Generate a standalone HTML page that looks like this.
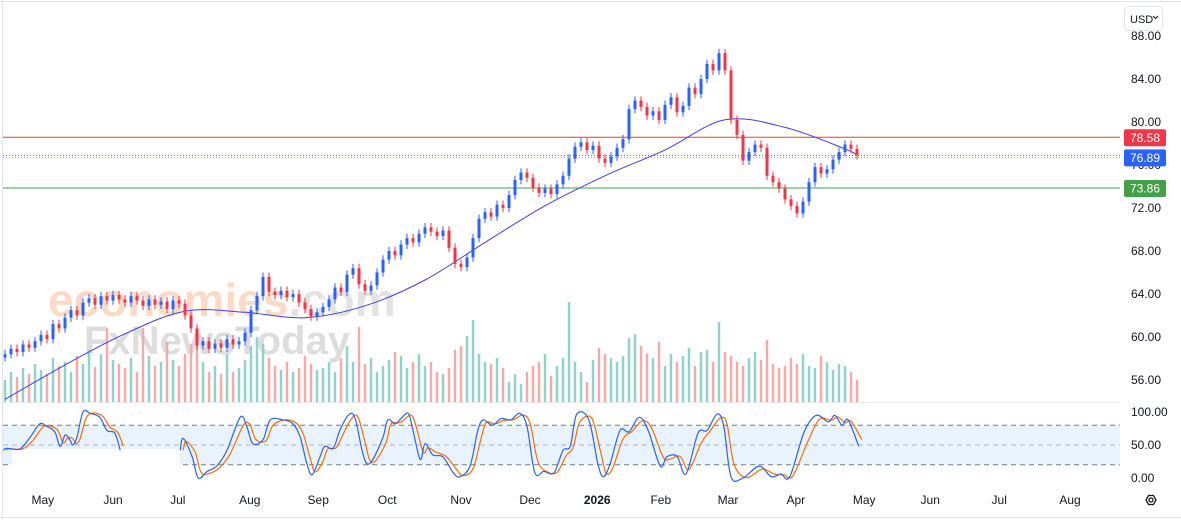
<!DOCTYPE html>
<html><head><meta charset="utf-8">
<style>
html,body{margin:0;padding:0;background:#fff;}
body{width:1181px;height:519px;overflow:hidden;font-family:"Liberation Sans",sans-serif;}
svg text{font-family:"Liberation Sans",sans-serif;}
</style></head>
<body>
<svg id="chart" width="1181" height="519" viewBox="0 0 1181 519" xmlns="http://www.w3.org/2000/svg">
  <rect x="0" y="0" width="1181" height="519" fill="#fff"/>
  <line x1="0" y1="1.5" x2="1181" y2="1.5" stroke="#e0e3eb"/>
  <line x1="2.5" y1="2" x2="2.5" y2="519" stroke="#e0e3eb"/>
  <line x1="0" y1="517.5" x2="1181" y2="517.5" stroke="#e0e3eb"/>
  <line x1="0" y1="402.5" x2="1120" y2="402.5" stroke="#e6e8ee" stroke-width="1"/>
  <g opacity="0.5">
    <text x="48" y="316" font-size="46" fill="#f9b98e" font-weight="bold">economies<tspan fill="#c8c8c8">.com</tspan></text>
    <text x="84" y="354" font-size="40" fill="#bdbdbd" font-weight="bold">FxNewsToday</text>
  </g>
  <g id="stochBand"></g>
  <g id="vol"></g>
  <g id="lines"></g>
  <g id="candles"></g>
  <g id="stoch"></g>
  <g id="axis"></g>
  <g>
    <rect x="1124.5" y="6.5" width="38" height="24" rx="4" fill="#fff" stroke="#e0e3eb"/>
    <text x="1130" y="23" font-size="11" fill="#131722">USD</text>
    <path d="M1153,16 l2.5,2.5 l2.5,-2.5" fill="none" stroke="#131722" stroke-width="1"/>
  </g>
  <g>
    <polygon points="1146,500 1148.5,495.5 1153.5,495.5 1156,500 1153.5,504.5 1148.5,504.5" fill="none" stroke="#131722" stroke-width="1.3"/>
    <circle cx="1151" cy="500" r="2" fill="none" stroke="#131722" stroke-width="1.3"/>
  </g>
</svg>
<script>
const closes = [58.4,58.9,58.6,59.3,59.0,59.6,60.2,59.8,61.2,60.8,
61.8,62.5,62.0,63.2,63.6,63.0,63.8,63.4,63.9,63.5,
63.2,63.8,63.4,62.9,63.5,63.0,63.3,62.6,63.4,63.1,
62.0,60.8,59.2,59.6,58.9,59.4,59.0,59.8,59.3,59.6,
60.4,62.5,63.8,65.6,64.2,63.9,64.3,63.7,64.0,63.2,
62.6,61.9,62.3,62.8,63.5,64.6,64.2,65.8,66.4,64.9,
64.3,64.8,66.0,67.2,68.0,67.6,68.6,69.2,68.8,69.6,
70.2,69.8,69.4,69.9,68.3,66.8,66.5,67.4,69.2,71.0,
71.6,71.2,72.3,72.0,73.2,74.6,75.3,74.8,73.9,73.4,
73.8,73.3,74.2,75.0,76.6,77.7,78.1,77.4,77.8,76.6,
76.2,76.8,77.6,78.4,81.2,82.0,81.4,80.6,81.0,80.2,
81.6,82.3,80.9,81.5,83.2,82.6,84.0,85.4,84.8,86.4,
84.8,80.2,78.8,76.4,77.2,77.9,77.6,75.0,74.4,73.8,
72.8,72.2,71.5,72.6,74.4,75.8,75.2,75.6,76.5,77.2,
77.9,77.5,76.9];
const volumes = [22,30,25,34,28,38,32,28,44,36,
40,30,46,38,52,35,48,74,42,38,
34,44,30,74,46,36,40,60,42,36,
48,58,62,40,30,36,28,48,30,34,
42,56,65,58,44,36,32,40,30,34,
46,38,32,34,40,30,44,56,40,75,
38,44,30,36,42,50,46,34,40,48,
36,40,30,28,34,52,56,66,82,48,
40,38,44,34,20,28,18,30,36,40,
48,26,36,44,100,40,30,20,42,54,
48,44,40,46,64,68,56,48,44,60,
36,48,40,46,54,36,50,52,40,80,
50,46,40,36,44,50,42,62,38,34,
36,44,38,48,36,34,46,40,32,38,
36,30,22];
const maBars = [0,10,20,30,40,50,60,70,80,90,100,110,120,130,140,142];
const maValues = [54.2,57.4,60.3,62.4,62.3,61.8,62.9,65.3,68.8,72.2,75.0,77.4,80.2,79.5,77.5,76.9];
const stochBars = [-0.3,0.3,2.5,4.2,5.8,7,8.3,9.2,10,10.8,11.3,12,13,14.2,15.8,17,18.3,19.2,null,
29.2,29.7,31.2,32.2,33.7,35.3,37,39.2,40.3,41.3,43,44.2,46.3,48,49.2,50.3,51.2,52.5,53.3,54.7,55.8,57.2,58.3,59.5,60.3,61.3,63,63.8,65,65.8,67.2,68,69.2,70,71.3,73,74.7,75.8,77.5,78.8,
79.7,81.2,82.7,84.3,85.8,87,88.3,89.8,91.5,93,94.2,95.3,97.3,98.8,99.7,100.8,102.5,104,105.7,107.2,109.2,110.3,112,113.5,115.5,117,118.7,119.8,121,123,125.7,127.7,129.3,130.8,133.2,135.2,137.2,138.3,139.5,140.5,142.3];
const stochK = [42,45,44,62,82,78,70,48,65,58,50,62,100,98,92,72,68,42,null,
42,60,32,0,10,18,42,92,78,52,58,88,88,82,62,22,5,32,48,45,72,95,92,42,22,28,62,88,82,88,98,72,28,52,35,32,8,2,18,72,
88,80,90,88,98,78,8,10,8,42,48,97,88,22,2,20,72,70,92,72,18,32,33,6,68,72,97,78,2,0,18,2,6,2,70,95,85,95,80,88,48];
const priceTicks = [88,84,80,76,72,68,64,60,56];
const stochTicks = [100,50,0];
const monthLabels = ["May","Jun","Jul","Aug","Sep","Oct","Nov","Dec","2026","Feb","Mar","Apr","May","Jun","Jul","Aug"];
const monthBars = [6.3,18,28.8,40.8,52.2,63.7,76,87.5,98.7,109.3,120.5,131.8,143.2,154.2,165.7,177.5];
const levelValues = [78.58,76.89,73.86];

const NS="http://www.w3.org/2000/svg";
const X0=5, STEP=6;
const xB=i=>X0+i*STEP;
const yP=p=>36+(88-p)*10.75;
const yS=v=>478-v*0.66;
const VBASE=402;
function mk(tag,attrs,parent){const e=document.createElementNS(NS,tag);for(const k in attrs)e.setAttribute(k,attrs[k]);parent.appendChild(e);return e;}
function smooth(pts){let d="M"+pts[0][0]+","+pts[0][1];for(let i=0;i<pts.length-1;i++){const p0=pts[i-1]||pts[i],p1=pts[i],p2=pts[i+1],p3=pts[i+2]||p2;const c1=[p1[0]+(p2[0]-p0[0])/6,p1[1]+(p2[1]-p0[1])/6],c2=[p2[0]-(p3[0]-p1[0])/6,p2[1]-(p3[1]-p1[1])/6];d+=" C"+c1[0].toFixed(1)+","+c1[1].toFixed(1)+" "+c2[0].toFixed(1)+","+c2[1].toFixed(1)+" "+p2[0].toFixed(1)+","+p2[1].toFixed(1);}return d;}

const band=document.getElementById('stochBand');
const bandRect=mk('rect',{x:3,y:yS(80),width:1117,height:yS(20)-yS(80),fill:'#e8f3fd'},band);


[80,50,20].forEach(v=>{const l=mk('line',{x1:3,x2:1120,y1:yS(v),y2:yS(v),stroke:v===50?'#b2b5be':'#787b86','stroke-dasharray':'5,4'},band);

});
const cover=mk('rect',{x:12,y:yS(50)+4,width:168,height:34,fill:'#fff'},band);



const vol=document.getElementById('vol');
closes.forEach((c,i)=>{const o=i?closes[i-1]:c-0.3;const up=c>=o;const h=volumes[i];
const r=mk('rect',{x:xB(i)-1.25,y:VBASE-h,width:2.5,height:h,fill:up?'#92d2cc':'#f7a9a7'},vol);

});

const lines=document.getElementById('lines');
const l1=mk('line',{x1:3,x2:1120,y1:yP(levelValues[0]),y2:yP(levelValues[0]),stroke:'#f23645'},lines);


const l2=mk('line',{x1:3,x2:1120,y1:yP(levelValues[1]),y2:yP(levelValues[1]),stroke:'#2962ff','stroke-dasharray':'1,2'},lines);


const l2b=mk('line',{x1:3,x2:1120,y1:yP(levelValues[1])+2,y2:yP(levelValues[1])+2,stroke:'#ff9800','stroke-dasharray':'1,2'},lines);


const l3=mk('line',{x1:3,x2:1120,y1:yP(levelValues[2]),y2:yP(levelValues[2]),stroke:'#43a047'},lines);


const ma=mk('path',{d:smooth(maBars.map((b,i)=>[xB(b),yP(maValues[i])])),fill:'none',stroke:'#3f3fe8','stroke-width':1},lines);



const cg=document.getElementById('candles');
closes.forEach((c,i)=>{const o=i?closes[i-1]:c-0.3;const up=c>=o;const col=up?'#2962ff':'#f23645';
const hi=Math.max(o,c)+0.4,lo=Math.min(o,c)-0.4;
const w=mk('line',{x1:xB(i),x2:xB(i),y1:yP(hi),y2:yP(lo),stroke:col},cg);


const top=yP(Math.max(o,c)),bh=Math.max(1,yP(Math.min(o,c))-top);
const b=mk('rect',{x:xB(i)-1.5,y:top,width:3,height:bh,fill:col},cg);

});

const sg=document.getElementById('stoch');
let segs=[[]];
stochBars.forEach((b,i)=>{if(b===null){segs.push([]);}else segs[segs.length-1].push([b,stochK[i]]);});
segs.forEach(seg=>{
  const dpts=seg.map((p,i)=>{const a=seg[Math.max(0,i-1)][1];return [xB(p[0]+0.5),yS(p[1]*0.75+a*0.25)];});
  const dp=mk('path',{d:smooth(dpts),fill:'none',stroke:'#ff6d00','stroke-width':1.2},sg);
  
  
  const kp=mk('path',{d:smooth(seg.map(p=>[xB(p[0]),yS(p[1])])),fill:'none',stroke:'#2962ff','stroke-width':1.2},sg);
  
  
});

const ax=document.getElementById('axis');
priceTicks.forEach(p=>{const t=mk('text',{x:1131,y:yP(p)+4,'font-size':12,fill:'#131722'},ax);t.textContent=p.toFixed(2);

});
stochTicks.forEach(v=>{const t=mk('text',{x:1131,y:yS(v)+4,'font-size':12,fill:'#131722'},ax);t.textContent=v.toFixed(2);

});
monthLabels.forEach((m,i)=>{const t=mk('text',{x:xB(monthBars[i]),y:504,'font-size':12,fill:'#131722','text-anchor':'middle','font-weight':m==='2026'?'bold':'normal'},ax);t.textContent=m;

});
const tagCols=['#f23645','#2962ff','#43a047'];
levelValues.forEach((v,i)=>{const y=yP(v)+(i===1?2:0);
const r=mk('rect',{x:1124,y:y-8,width:42,height:17,rx:2,fill:tagCols[i]},ax);


const t=mk('text',{x:1145,y:y+4.5,'font-size':12,fill:'#fff','text-anchor':'middle'},ax);t.textContent=v.toFixed(2);

});
</script>
</body></html>
